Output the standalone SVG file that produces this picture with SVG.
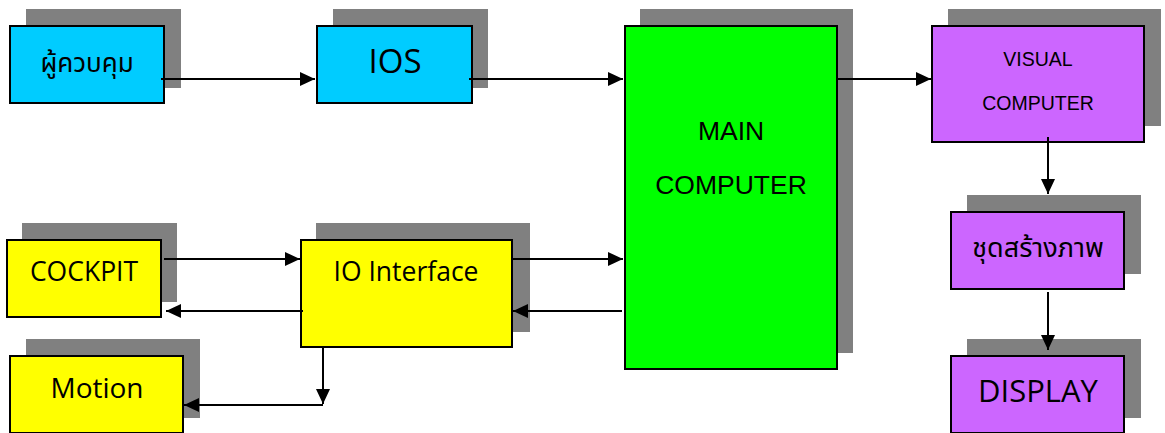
<svg xmlns="http://www.w3.org/2000/svg" width="1165" height="433" viewBox="0 0 1165 433">
<style>
.sh{fill:#808080;}
.bx{stroke:#000;stroke-width:2;}
.cy{fill:#00CCFF;}
.gr{fill:#00FF00;}
.ye{fill:#FFFF00;}
.pu{fill:#CC66FF;}
.t{font-family:"Open Sans","Noto Sans",sans-serif;fill:#000;text-anchor:middle;}
.th{font-family:"Noto Sans Thai","Noto Sans","DejaVu Sans",sans-serif;fill:#000;text-anchor:middle;font-weight:normal;}
.a{font-family:"Liberation Sans",Arial,sans-serif;fill:#000;text-anchor:middle;}
.c{fill:none;stroke:#000;stroke-width:2;marker-end:url(#ah);}
</style>
<defs>
<marker id="ah" markerUnits="userSpaceOnUse" markerWidth="15" markerHeight="14" refX="15" refY="7" orient="auto">
<path d="M0,0 L15,7 L0,14 z" fill="#000"/>
</marker>
</defs>
<rect width="1165" height="433" fill="#fff"/>
<g id="n-operator">
<rect class="sh" x="26" y="9" width="155" height="79"/>
<rect class="bx cy" x="10" y="26" width="154" height="77"/>
<text class="th" x="87" y="72" font-size="26">ผู้ควบคุม</text>
</g>
<g id="n-ios">
<rect class="sh" x="333" y="9" width="155" height="79"/>
<rect class="bx cy" x="317" y="26" width="155" height="77"/>
<text class="t" x="395" y="73" font-size="33">IOS</text>
</g>
<g id="n-main">
<rect class="sh" x="640" y="9" width="213" height="344"/>
<rect class="bx gr" x="625" y="26" width="212" height="343"/>
<text class="a" x="731" y="140" font-size="26.5">MAIN</text>
<text class="a" x="731" y="194" font-size="26.5">COMPUTER</text>
</g>
<g id="n-visual">
<rect class="sh" x="948" y="9" width="213" height="117"/>
<rect class="bx pu" x="932" y="26" width="212" height="116"/>
<text class="a" x="1038" y="66" font-size="19.5">VISUAL</text>
<text class="a" x="1038" y="110" font-size="19.5">COMPUTER</text>
</g>
<g id="n-imagegen">
<rect class="sh" x="967" y="195" width="174" height="79"/>
<rect class="bx pu" x="951" y="212" width="173" height="77"/>
<text class="th" x="1038" y="257" font-size="27">ชุดสร้างภาพ</text>
</g>
<g id="n-display">
<rect class="sh" x="967" y="339" width="174" height="79"/>
<rect class="bx pu" x="951" y="356" width="173" height="77"/>
<text class="t" x="1038" y="402" font-size="31">DISPLAY</text>
</g>
<g id="n-cockpit">
<rect class="sh" x="22" y="223" width="155" height="79"/>
<rect class="bx ye" x="7" y="240" width="154" height="77"/>
<text class="t" x="84" y="281" font-size="26.5">COCKPIT</text>
</g>
<g id="n-io">
<rect class="sh" x="316" y="223" width="214" height="109"/>
<rect class="bx ye" x="301" y="240" width="211" height="107"/>
<text class="t" x="406" y="281" font-size="26.5">IO Interface</text>
</g>
<g id="n-motion">
<rect class="sh" x="26" y="339" width="174" height="79"/>
<rect class="bx ye" x="10" y="356" width="173" height="77"/>
<text class="t" x="97" y="398" font-size="28">Motion</text>
</g>
<g id="connectors">
<path class="c" d="M161,79 H315"/>
<path class="c" d="M469,79 H623"/>
<path class="c" d="M837,79 H931"/>
<path class="c" d="M1048,137 V194"/>
<path class="c" d="M1048,292 V350"/>
<path class="c" d="M164,259 H300"/>
<path class="c" d="M512,259 H623"/>
<path class="c" d="M622,311 H513"/>
<path class="c" d="M303,311 H166"/>
<path class="c" d="M323,348 V404"/>
<path class="c" d="M323,405 H184"/>
</g>
</svg>
